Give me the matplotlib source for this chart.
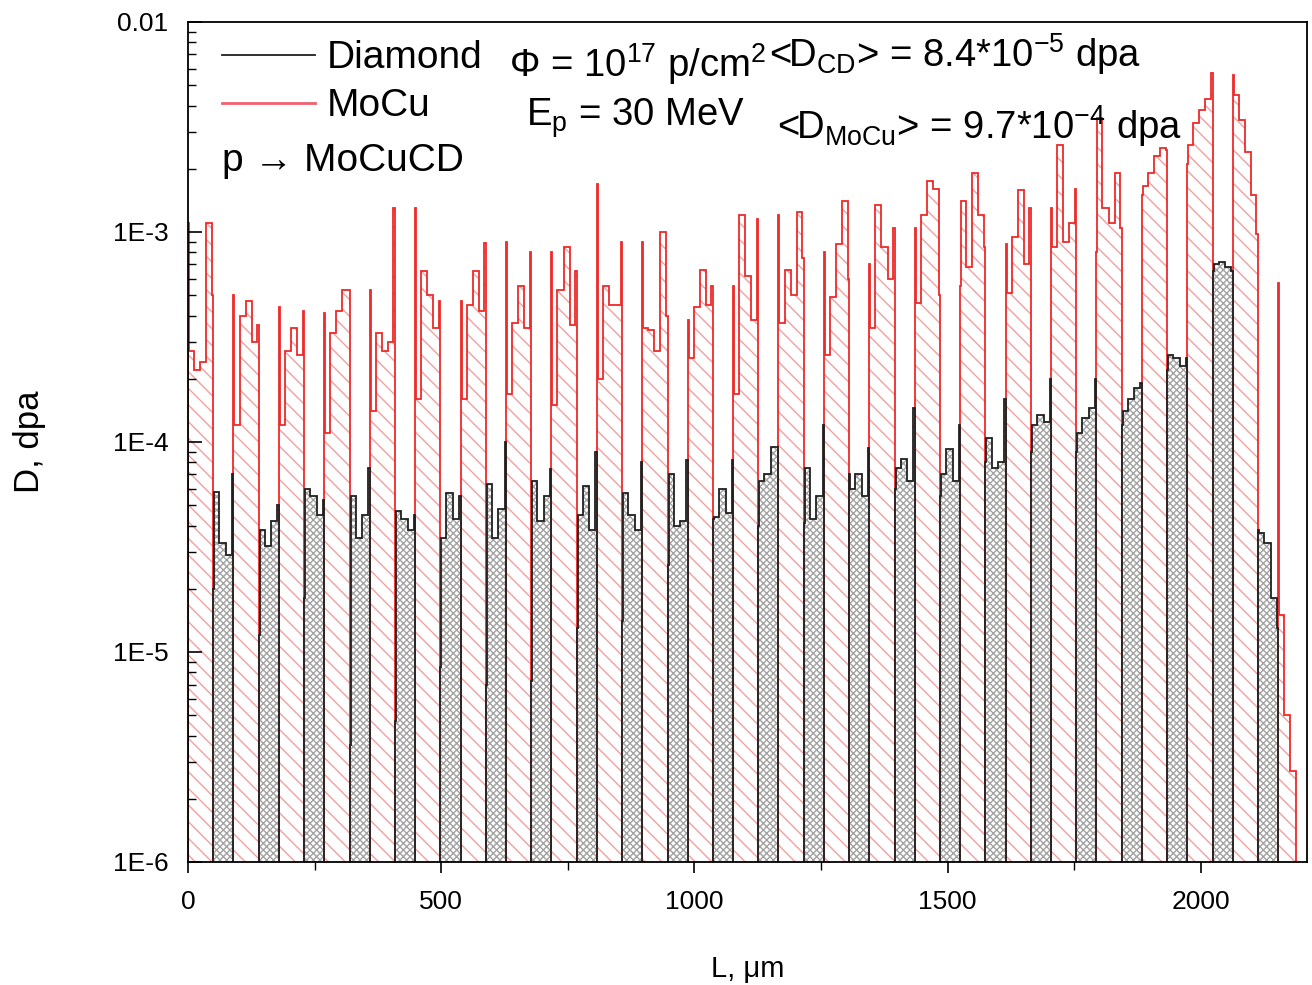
import matplotlib
matplotlib.use("Agg")
import matplotlib.pyplot as plt
from matplotlib.lines import Line2D
from matplotlib.ticker import FixedLocator, LogLocator, NullFormatter, MultipleLocator

plt.rcParams["font.family"] = ["Liberation Sans", "DejaVu Sans"]
plt.rcParams["mathtext.fontset"] = "custom"
plt.rcParams["mathtext.rm"] = "Liberation Sans"
plt.rcParams["mathtext.it"] = "Liberation Sans:italic"
plt.rcParams["mathtext.bf"] = "Liberation Sans:bold"
plt.rcParams["hatch.linewidth"] = 1.0

# layer structure of the MoCu / diamond stack (um)
mocu_thick = 50.0
diamond_thick = 39.7

# dose per bin inside each MoCu layer: [edge, b1, b2, b3, b4, edge]
mocu_dose = [
    [1.1e-3, 2.7e-4, 2.2e-4, 2.4e-4, 1.1e-3, 5.0e-4],
    [5.0e-4, 1.2e-4, 4.0e-4, 4.7e-4, 3.0e-4, 3.6e-4],
    [4.4e-4, 1.2e-4, 2.7e-4, 3.5e-4, 2.6e-4, 4.2e-4],
    [4.1e-4, 1.1e-4, 3.3e-4, 4.2e-4, 5.3e-4, 5.3e-4],
    [5.3e-4, 1.4e-4, 3.3e-4, 2.7e-4, 3.0e-4, 1.3e-3],
    [1.3e-3, 1.6e-4, 6.5e-4, 5.0e-4, 3.5e-4, 4.7e-4],
    [4.7e-4, 1.6e-4, 4.5e-4, 6.5e-4, 4.2e-4, 8.9e-4],
    [9.0e-4, 1.7e-4, 3.7e-4, 5.5e-4, 3.5e-4, 8.0e-4],
    [8.0e-4, 1.5e-4, 5.3e-4, 8.5e-4, 3.6e-4, 6.5e-4],
    [1.7e-3, 2.0e-4, 5.5e-4, 4.5e-4, 4.5e-4, 9.0e-4],
    [9.0e-4, 3.5e-4, 3.4e-4, 2.7e-4, 1.0e-3, 4.0e-4],
    [3.8e-4, 2.5e-4, 4.4e-4, 6.6e-4, 4.5e-4, 5.5e-4],
    [5.5e-4, 1.7e-4, 1.2e-3, 6.2e-4, 3.8e-4, 1.15e-3],
    [1.2e-3, 3.7e-4, 6.6e-4, 5.0e-4, 1.25e-3, 7.5e-4],
    [8.0e-4, 2.6e-4, 4.9e-4, 8.8e-4, 1.4e-3, 6.0e-4],
    [7.0e-4, 3.5e-4, 1.35e-3, 8.5e-4, 6.0e-4, 1.05e-3],
    [1.05e-3, 4.6e-4, 1.2e-3, 1.75e-3, 1.6e-3, 5.0e-4],
    [5.5e-4, 1.4e-3, 6.8e-4, 1.9e-3, 1.2e-3, 8.5e-4],
    [8.8e-4, 5.1e-4, 9.5e-4, 1.58e-3, 7.0e-4, 1.3e-3],
    [1.3e-3, 8.5e-4, 2.6e-3, 9.0e-4, 1.1e-3, 1.6e-3],
    [8.0e-4, 3.5e-3, 1.3e-3, 1.1e-3, 1.9e-3, 1.05e-3],
    [1.5e-3, 1.65e-3, 1.9e-3, 2.3e-3, 2.5e-3, 2.45e-3],
    [2.1e-3, 2.6e-3, 3.3e-3, 3.8e-3, 4.3e-3, 5.7e-3],
    [5.6e-3, 4.5e-3, 3.4e-3, 2.4e-3, 1.5e-3, 9.8e-4],
    [5.7e-4, 1.5e-5, 5.0e-6, 2.7e-6, 1e-9, 1e-9],
]

# dose per bin inside each diamond layer: [edge, b1, b2, b3, edge]
diamond_dose = [
    [2.0e-5, 5.8e-5, 3.3e-5, 2.9e-5, 7.0e-5],
    [1.2e-5, 3.8e-5, 3.2e-5, 4.2e-5, 5.0e-5],
    [1.8e-5, 6.0e-5, 5.5e-5, 4.5e-5, 5.3e-5],
    [3.6e-6, 5.5e-5, 3.5e-5, 4.5e-5, 7.5e-5],
    [4.7e-6, 4.7e-5, 4.3e-5, 3.8e-5, 4.5e-5],
    [8.5e-6, 3.5e-5, 5.7e-5, 4.3e-5, 5.5e-5],
    [7.0e-6, 6.3e-5, 3.5e-5, 4.8e-5, 1.0e-4],
    [7.3e-6, 6.5e-5, 4.2e-5, 5.5e-5, 7.4e-5],
    [1.3e-5, 4.5e-5, 6.2e-5, 3.8e-5, 9.0e-5],
    [1.4e-5, 5.7e-5, 4.5e-5, 3.8e-5, 8.0e-5],
    [2.6e-5, 7.0e-5, 4.0e-5, 4.2e-5, 8.2e-5],
    [4.3e-5, 4.4e-5, 6.0e-5, 4.6e-5, 8.2e-5],
    [4.0e-5, 6.5e-5, 7.0e-5, 9.5e-5, 9.5e-5],
    [4.1e-5, 7.5e-5, 4.3e-5, 5.5e-5, 1.2e-4],
    [7.0e-5, 6.0e-5, 7.0e-5, 5.5e-5, 9.4e-5],
    [6.0e-5, 7.5e-5, 8.3e-5, 6.5e-5, 1.45e-4],
    [5.5e-5, 7.0e-5, 9.3e-5, 6.5e-5, 1.2e-4],
    [8.0e-5, 1.05e-4, 7.5e-5, 8.0e-5, 1.6e-4],
    [9.0e-5, 1.2e-4, 1.35e-4, 1.25e-4, 2.0e-4],
    [9.0e-5, 1.1e-4, 1.3e-4, 1.45e-4, 2.0e-4],
    [1.2e-4, 1.4e-4, 1.6e-4, 1.8e-4, 1.9e-4],
    [2.2e-4, 2.6e-4, 2.5e-4, 2.3e-4, 2.5e-4],
    [6.5e-4, 7.0e-4, 7.2e-4, 6.8e-4, 6.5e-4],
    [3.8e-5, 3.7e-5, 3.3e-5, 1.8e-5, 1.3e-5],
]

# bin edges inside one layer, relative to the layer start (um)
mocu_bins = [0, 2, 12, 24, 36, 47, 50]
diamond_bins = [0, 2, 12, 25, 37, 39.7]

FLOOR = 1e-9
period = mocu_thick + diamond_thick


def build(layers, bins, offset):
    # one continuous step profile; the other material's layers sit at FLOOR
    edges = [offset]
    vals = []
    for k, layer in enumerate(layers):
        x0 = offset + k * period
        if k > 0:
            vals.append(FLOOR)
            edges.append(x0)
        for j, v in enumerate(layer):
            vals.append(v)
            edges.append(x0 + bins[j + 1])
    return edges, vals


mocu_edges, mocu_vals = build(mocu_dose, mocu_bins, 0.0)
dia_edges, dia_vals = build(diamond_dose, diamond_bins, mocu_thick)

fig = plt.figure(figsize=(13.12, 9.85), dpi=100)
ax = fig.add_axes([0.1433, 0.1249, 0.8529, 0.8528])

red = "#ee2a2a"
ax.stairs(mocu_vals, mocu_edges, baseline=FLOOR, fill=True, facecolor="none",
          edgecolor="#f3a0a0", hatch="\\\\", linewidth=0)
ax.stairs(mocu_vals, mocu_edges, baseline=FLOOR, color=red, linewidth=1.3)
ax.stairs(dia_vals, dia_edges, baseline=FLOOR, fill=True, facecolor="none",
          edgecolor="#a2a2a2", hatch="xxxxx", linewidth=0)
ax.stairs(dia_vals, dia_edges, baseline=FLOOR, color="#202020", linewidth=1.3)

ax.set_yscale("log")
ax.set_ylim(1e-6, 1e-2)
ax.set_xlim(0, 2210)

ax.yaxis.set_major_locator(FixedLocator([1e-6, 1e-5, 1e-4, 1e-3, 1e-2]))
ax.set_yticklabels(["1E-6", "1E-5", "1E-4", "1E-3", "0.01"])
ax.yaxis.set_minor_locator(LogLocator(base=10, subs=range(2, 10), numticks=20))
ax.yaxis.set_minor_formatter(NullFormatter())
ax.xaxis.set_major_locator(MultipleLocator(500))
ax.xaxis.set_minor_locator(MultipleLocator(250))

ax.tick_params(axis="y", which="both", direction="in", labelsize=19, pad=14)
ax.tick_params(axis="y", which="major", length=10, width=1.2)
ax.tick_params(axis="y", which="minor", length=6, width=1.0)
ax.tick_params(axis="x", which="both", direction="out", labelsize=19, pad=12)
ax.tick_params(axis="x", which="major", length=8, width=1.2)
ax.tick_params(axis="x", which="minor", length=6, width=1.0)
for s in ax.spines.values():
    s.set_linewidth(1.3)

ax.set_xlabel("L, μm", fontsize=21, labelpad=30)
ax.set_ylabel("D, dpa", fontsize=25, labelpad=48)

leg_handles = [Line2D([], [], color="#202020", linewidth=1.3),
               Line2D([], [], color="#f06070", linewidth=2.0)]
ax.legend(leg_handles, ["Diamond", "MoCu"], loc="upper left",
          bbox_to_anchor=(0.03, 0.978), frameon=False, fontsize=28,
          handlelength=2.4, handletextpad=0.3, labelspacing=0.3,
          borderaxespad=0, borderpad=0)

fs = 27.5
ax.text(0.030, 0.834, "p → MoCuCD", transform=ax.transAxes, fontsize=28,
        va="center", ha="left")
ax.text(0.287, 0.950, "Φ = 10$^{17}$ p/cm$^{2}$", transform=ax.transAxes,
        fontsize=fs, va="center", ha="left")
ax.text(0.302, 0.886, "E$_{\\mathrm{p}}$ = 30 MeV", transform=ax.transAxes,
        fontsize=fs, va="center", ha="left")
ax.text(0.519, 0.962, "<D$_{\\mathrm{CD}}$> = 8.4*10$^{-5}$ dpa",
        transform=ax.transAxes, fontsize=fs, va="center", ha="left")
ax.text(0.526, 0.876, "<D$_{\\mathrm{MoCu}}$> = 9.7*10$^{-4}$ dpa",
        transform=ax.transAxes, fontsize=fs, va="center", ha="left")

fig.savefig("out.png", dpi=100)
